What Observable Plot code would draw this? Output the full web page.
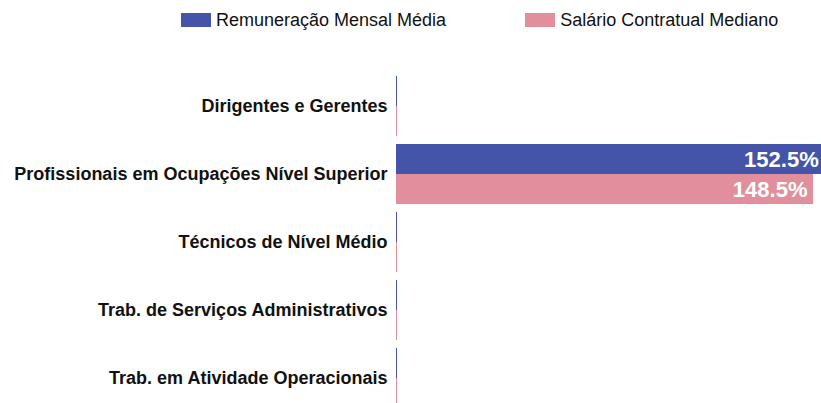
<!DOCTYPE html>
<html>
<head>
<meta charset="utf-8">
<script src="https://cdn.jsdelivr.net/npm/d3@7"></script>
<script src="https://cdn.jsdelivr.net/npm/@observablehq/plot@0.6"></script>
<style>
  html, body { margin: 0; padding: 0; background: #fff; overflow: hidden; }
  body { width: 821px; height: 403px; font-family: "Liberation Sans", Arial, sans-serif; }
  #legend { height: 40px; display: flex; align-items: center; padding-left: 181px; box-sizing: border-box; font-size: 18px; color: #111; }
  .item { display: flex; align-items: center; }
  .sw { width: 30px; height: 14px; margin-right: 5px; }
  #chart svg { display: block; }
</style>
</head>
<body>
<div id="legend"></div>
<div id="chart"></div>
<script>
const categories = [
  "Dirigentes e Gerentes",
  "Profissionais em Ocupações Nível Superior",
  "Técnicos de Nível Médio",
  "Trab. de Serviços Administrativos",
  "Trab. em Atividade Operacionais"
];
const series = ["Remuneração Mensal Média", "Salário Contratual Mediano"];
const remuneracao = [0.35, 152.5, 0.35, 0.35, 0.35];
const salario = [0.35, 148.5, 0.35, 0.35, 0.35];
const colors = ["#4454a8", "#e18f9d"];

const data = [];
categories.forEach((c, i) => {
  data.push({category: c, series: series[0], value: remuneracao[i]});
  data.push({category: c, series: series[1], value: salario[i]});
});

// legend
const legend = document.getElementById("legend");
series.forEach((s, i) => {
  const it = document.createElement("div");
  it.className = "item";
  if (i > 0) it.style.marginLeft = "79px";
  const sw = document.createElement("div");
  sw.className = "sw";
  sw.style.background = colors[i];
  const tx = document.createElement("span");
  tx.textContent = s;
  it.appendChild(sw); it.appendChild(tx);
  legend.appendChild(it);
});

const chart = Plot.plot({
  width: 821,
  height: 372,
  marginLeft: 396,
  marginRight: 0,
  marginTop: 32,
  marginBottom: 0,
  style: {fontFamily: "'Liberation Sans', Arial, sans-serif", background: "#fff"},
  x: {domain: [0, 151.35], axis: null},
  y: {domain: series, axis: null, paddingInner: 0, paddingOuter: 0},
  fy: {domain: categories, paddingInner: 0.1, paddingOuter: 0.05, label: null, axis: null},
  color: {domain: series, range: colors},
  marks: [
    Plot.barX(data, {x: "value", y: "series", fy: "category", fill: "series"}),
    Plot.text(data.filter(d => d.value > 10), {
      x: "value", y: "series", fy: "category",
      text: d => d.value.toFixed(1) + "%",
      textAnchor: "end", dx: -6, fill: "white", fontWeight: "bold", fontSize: 22
    }),
    Plot.axisFy({anchor: "left", tickSize: 0, tickPadding: 9, label: null, fontWeight: "bold", fontSize: 18, fill: "#111"})
  ]
});
document.getElementById("chart").appendChild(chart);
</script>
</body>
</html>
